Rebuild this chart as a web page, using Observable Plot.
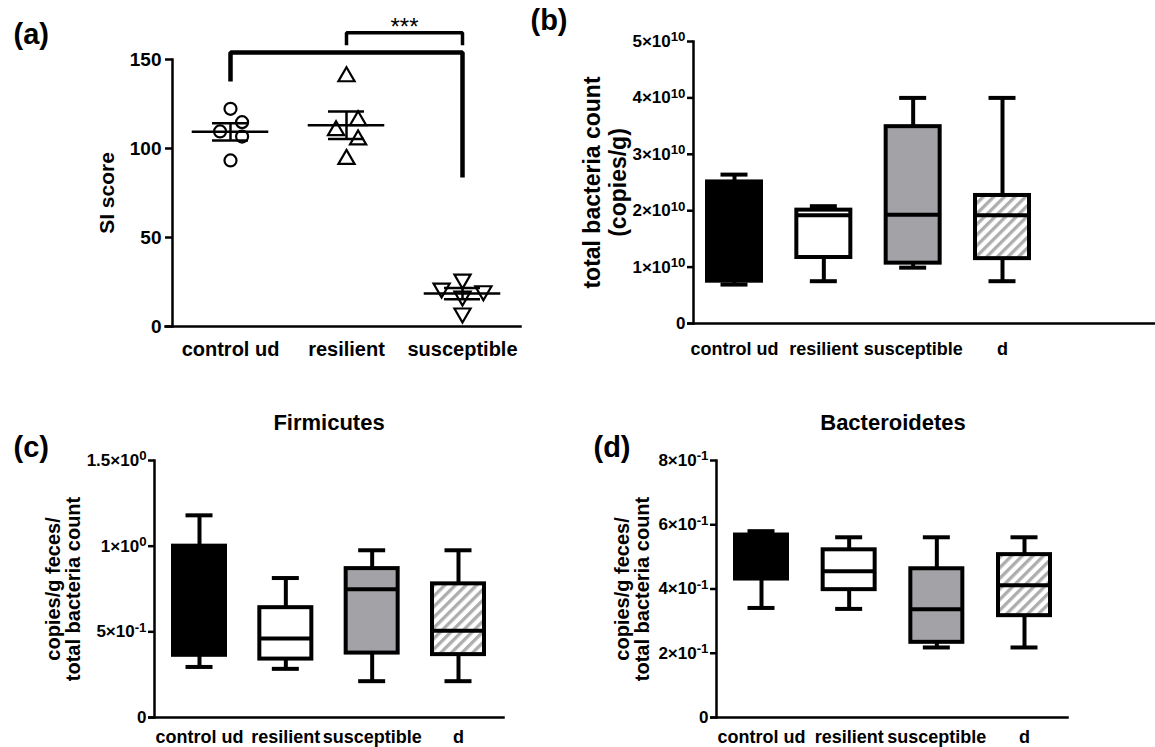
<!DOCTYPE html>
<html><head><meta charset="utf-8">
<script src="https://cdn.jsdelivr.net/npm/d3@7"></script>
<script src="https://cdn.jsdelivr.net/npm/@observablehq/plot@0.6"></script>
<style>
body{margin:0;background:#fff;}
#fig{position:relative;width:1155px;height:747px;overflow:hidden;background:#fff;}
#fig svg{position:absolute;overflow:visible;}
</style></head><body><div id="fig"></div>
<script>
// ---------------- data ----------------
// panel (a): SI score, individual animals
const groupsA = ["control ud", "resilient", "susceptible"];
const siControl = [122.3, 114.8, 109.6, 106.7, 93.3];
const siResilient = [140.4, 115.7, 110.1, 104.9, 94.0];
const siSusceptible = [26.5, 21.5, 20.0, 17.0, 7.5];
const jitterControl = [0, 0.1, -0.09, 0.1, 0];
const jitterResilient = [0, 0.1, -0.09, 0.1, 0];
const jitterSusceptible = [0, -0.18, 0.18, 0, 0];
const siTicks = [0, 50, 100, 150];
// significance brackets: [group index, SI value]
const bracketLong = [[0, 137.6], [0, 154], [2, 154], [2, 83.7]];
const bracketShort = [[1, 158], [1, 165], [2, 165], [2, 158]];
const starLabel = {t: "***", x: 1.5, y: 168};

// panels (b)-(d): box plots
const groupsBox = ["control ud", "resilient", "susceptible", "d"];
// (b) total bacteria count (copies/g)
const totalMin = [0.69e10, 0.75e10, 0.99e10, 0.75e10];
const totalQ1  = [0.75e10, 1.17e10, 1.07e10, 1.15e10];
const totalMed = [1.60e10, 1.92e10, 1.93e10, 1.92e10];
const totalQ3  = [2.51e10, 2.01e10, 3.49e10, 2.27e10];
const totalMax = [2.64e10, 2.08e10, 4.00e10, 4.00e10];
const totalTicks = [0, 1e10, 2e10, 3e10, 4e10, 5e10];
// (c) Firmicutes
const firmMin = [0.295, 0.284, 0.212, 0.212];
const firmQ1  = [0.363, 0.341, 0.376, 0.367];
const firmMed = [0.700, 0.461, 0.749, 0.506];
const firmQ3  = [1.000, 0.641, 0.869, 0.780];
const firmMax = [1.180, 0.814, 0.976, 0.976];
const firmTicks = [0, 0.5, 1, 1.5];
// (d) Bacteroidetes
const bactMin = [0.341, 0.338, 0.218, 0.218];
const bactQ1  = [0.431, 0.398, 0.234, 0.317];
const bactMed = [0.500, 0.455, 0.337, 0.412];
const bactQ3  = [0.568, 0.522, 0.463, 0.507];
const bactMax = [0.580, 0.561, 0.561, 0.561];
const bactTicks = [0, 0.2, 0.4, 0.6, 0.8];

// ---------------- styles ----------------
const FONT = "'Liberation Sans', Arial, Helvetica, sans-serif";
const boxFills = ["black", "white", "#a3a3a7", "HATCH"];
const fig = document.getElementById("fig");
const SVGNS = "http://www.w3.org/2000/svg";

const triangleDown = {
  draw(context, size) {
    const y = -Math.sqrt(size / (Math.sqrt(3) * 3));
    context.moveTo(0, -y * 2);
    context.lineTo(-Math.sqrt(3) * y, y);
    context.lineTo(Math.sqrt(3) * y, y);
    context.closePath();
  }
};

function place(svg, left, top) {
  svg.style.left = left + "px";
  svg.style.top = top + "px";
  fig.appendChild(svg);
}

function superscripts(svg) {
  svg.querySelectorAll("text").forEach(t => {
    const s = t.textContent;
    if (s.includes("^")) {
      const [base, exp] = s.split("^");
      t.textContent = base;
      const ts = document.createElementNS(SVGNS, "tspan");
      ts.setAttribute("dy", "-0.42em");
      ts.setAttribute("font-size", "0.78em");
      ts.textContent = exp;
      t.appendChild(ts);
    }
  });
}

function addHatch(svg, id) {
  const defs = document.createElementNS(SVGNS, "defs");
  defs.innerHTML = `<pattern id="${id}" width="7.5" height="7.5" patternUnits="userSpaceOnUse" patternTransform="rotate(45)">
    <rect width="7.5" height="7.5" fill="white"></rect><rect width="3.3" height="7.5" fill="#adadad"></rect></pattern>`;
  svg.insertBefore(defs, svg.firstChild);
}

// ---------------- panel (a) ----------------
(function () {
  const L = {left: 0, top: 0, width: 520, height: 370, mL: 172, mT: 59, mB: 44, mR: 0, xr: [230, 462]};
  const vals = [siControl, siResilient, siSusceptible];
  const jit = [jitterControl, jitterResilient, jitterSusceptible];
  const syms = ["circle", "triangle", triangleDown];
  const pts = vals.map((v, g) => v.map((y, k) => ({g, v: y, j: jit[g][k]})));
  const stats = vals.map((v, i) => {
    const m = d3.mean(v), s = d3.deviation(v) / Math.sqrt(v.length);
    return {i, m, lo: m - s, hi: m + s};
  });
  const svg = Plot.plot({
    width: L.width, height: L.height,
    marginLeft: L.mL, marginTop: L.mT, marginBottom: L.mB, marginRight: L.mR,
    x: {type: "linear", domain: [0, 2], range: L.xr},
    y: {domain: [0, 150]},
    style: {fontFamily: FONT, fontWeight: "bold", color: "black", background: "transparent"},
    marks: [
      Plot.frame({anchor: "left", strokeWidth: 2.5}),
      Plot.frame({anchor: "bottom", strokeWidth: 2.5, insetLeft: -7}),
      Plot.axisY({ticks: siTicks, tickSize: 7, tickPadding: 4, fontSize: 19, strokeWidth: 2.5, label: null}),
      Plot.axisX({ticks: [0, 1, 2], tickFormat: i => groupsA[i], tickSize: 0, tickPadding: 15, fontSize: 20, label: null}),
      Plot.ruleY(stats, {y: "m", x1: d => d.i - 0.33, x2: d => d.i + 0.33, strokeWidth: 2.5}),
      Plot.ruleY(stats, {y: "lo", x1: d => d.i - 0.155, x2: d => d.i + 0.155, strokeWidth: 2.5}),
      Plot.ruleY(stats, {y: "hi", x1: d => d.i - 0.155, x2: d => d.i + 0.155, strokeWidth: 2.5}),
      Plot.ruleX(stats, {x: "i", y1: "lo", y2: "hi", strokeWidth: 2.5}),
      ...pts.map((p, g) => Plot.dot(p, {x: d => d.g + d.j, y: "v", symbol: syms[g], r: 6, stroke: "black", strokeWidth: 2.2, fill: "none"})),
      Plot.line(bracketLong, {x: d => d[0], y: d => d[1], strokeWidth: 4.5, strokeLinejoin: "miter", strokeLinecap: "butt"}),
      Plot.line(bracketShort, {x: d => d[0], y: d => d[1], strokeWidth: 3.5, strokeLinejoin: "miter", strokeLinecap: "butt"}),
      Plot.text([starLabel], {x: "x", y: "y", text: "t", fontSize: 24, fontWeight: "normal"}),
      Plot.text(["(a)"], {frameAnchor: "top-left", dx: 13 - L.mL, dy: 34 - L.mT, textAnchor: "start", lineAnchor: "middle", fontSize: 29}),
      Plot.text(["SI score"], {frameAnchor: "left", dx: 107 - L.mL, rotate: -90, textAnchor: "middle", lineAnchor: "middle", fontSize: 21})
    ]
  });
  place(svg, L.left, L.top);
})();

// ---------------- box panels ----------------
function boxPanel(cfg) {
  const L = cfg.layout;
  const rows = groupsBox.map((g, i) => ({i, g, min: cfg.min[i], q1: cfg.q1[i], med: cfg.med[i], q3: cfg.q3[i], max: cfg.max[i]}));
  const spacing = (L.xr[1] - L.xr[0]) / (groupsBox.length - 1);
  const bw = L.boxHalf / spacing, cw = L.capHalf / spacing;
  const marks = [
    Plot.frame({anchor: "left", strokeWidth: 2.5}),
    Plot.frame({anchor: "bottom", strokeWidth: 2.5, insetLeft: -5}),
    Plot.axisY({ticks: cfg.ticks, tickFormat: cfg.fmt, tickSize: 6, tickPadding: 2, fontSize: L.tickFont, strokeWidth: 2.5, label: null}),
    Plot.axisX({ticks: rows.map(r => r.i), tickFormat: i => groupsBox[i], tickSize: 0, tickPadding: L.catPad, fontSize: L.catFont, label: null}),
    Plot.ruleX(rows, {x: "i", y1: "q3", y2: "max", strokeWidth: 4}),
    Plot.ruleX(rows, {x: "i", y1: "min", y2: "q1", strokeWidth: 4}),
    Plot.ruleY(rows, {y: "max", x1: d => d.i - cw, x2: d => d.i + cw, strokeWidth: 4}),
    Plot.ruleY(rows, {y: "min", x1: d => d.i - cw, x2: d => d.i + cw, strokeWidth: 4}),
    ...rows.map((r, k) => Plot.rect([r], {
      x1: d => d.i - bw, x2: d => d.i + bw, y1: "q1", y2: "q3",
      fill: boxFills[k] === "HATCH" ? `url(#${cfg.hatchId})` : boxFills[k],
      stroke: "black", strokeWidth: 4
    })),
    Plot.ruleY(rows, {y: "med", x1: d => d.i - bw, x2: d => d.i + bw, strokeWidth: 4}),
    Plot.text([cfg.letter], {frameAnchor: "top-left", dx: L.letterX - L.mL, dy: L.letterY - L.mT, textAnchor: "start", lineAnchor: "middle", fontSize: 29}),
    Plot.text([cfg.ylabel], {frameAnchor: "left", dx: L.ylabX - L.mL, rotate: -90, textAnchor: "middle", lineAnchor: "middle", fontSize: L.ylabFont, lineHeight: L.ylabLH})
  ];
  if (cfg.title) marks.push(Plot.text([{t: cfg.title, x: 1.5}], {x: "x", text: "t", frameAnchor: "top", dy: L.titleY - L.mT, textAnchor: "middle", lineAnchor: "middle", fontSize: 22}));
  const svg = Plot.plot({
    width: L.width, height: L.height,
    marginLeft: L.mL, marginTop: L.mT, marginBottom: L.mB, marginRight: L.mR,
    x: {type: "linear", domain: [0, groupsBox.length - 1], range: L.xr},
    y: {domain: [0, cfg.ticks[cfg.ticks.length - 1]]},
    style: {fontFamily: FONT, fontWeight: "bold", color: "black", background: "transparent"},
    marks
  });
  addHatch(svg, cfg.hatchId);
  superscripts(svg);
  place(svg, L.left, L.top);
}

const sciFmt = (v, exp) => v === 0 ? "0" : `${+(v / Math.pow(10, exp)).toFixed(2)}×10^${exp}`;

boxPanel({
  layout: {left: 520, top: 0, width: 635, height: 370, mL: 173, mT: 41, mB: 47, mR: 0, xr: [214, 482],
    boxHalf: 27, capHalf: 13.5, tickFont: 17, catFont: 18, catPad: 19,
    letterX: 10, letterY: 20, ylabX: 84.5, ylabFont: 23, ylabLH: 1.1},
  min: totalMin, q1: totalQ1, med: totalMed, q3: totalQ3, max: totalMax,
  ticks: totalTicks, fmt: v => sciFmt(v, 10),
  letter: "(b)", ylabel: "total bacteria count\n(copies/g)", hatchId: "hatchB"
});

boxPanel({
  layout: {left: 0, top: 370, width: 580, height: 377, mL: 154, mT: 90, mB: 30, mR: 77, xr: [199, 458],
    boxHalf: 26, capHalf: 13.5, tickFont: 17, catFont: 18, catPad: 13,
    letterX: 13, letterY: 77, ylabX: 63, ylabFont: 20, ylabLH: 1.0, titleY: 52},
  min: firmMin, q1: firmQ1, med: firmMed, q3: firmQ3, max: firmMax,
  ticks: firmTicks, fmt: v => v === 0 ? "0" : (v < 1 ? sciFmt(v, -1) : sciFmt(v, 0)),
  letter: "(c)", ylabel: "copies/g feces/\ntotal bacteria count", title: "Firmicutes", hatchId: "hatchC"
});

boxPanel({
  layout: {left: 580, top: 370, width: 575, height: 377, mL: 136, mT: 90, mB: 30, mR: 88, xr: [181, 444],
    boxHalf: 26, capHalf: 13.5, tickFont: 17, catFont: 18, catPad: 13,
    letterX: 13, letterY: 77, ylabX: 52, ylabFont: 20, ylabLH: 1.0, titleY: 52},
  min: bactMin, q1: bactQ1, med: bactMed, q3: bactQ3, max: bactMax,
  ticks: bactTicks, fmt: v => sciFmt(v, -1),
  letter: "(d)", ylabel: "copies/g feces/\ntotal bacteria count", title: "Bacteroidetes", hatchId: "hatchD"
});
</script></body></html>
